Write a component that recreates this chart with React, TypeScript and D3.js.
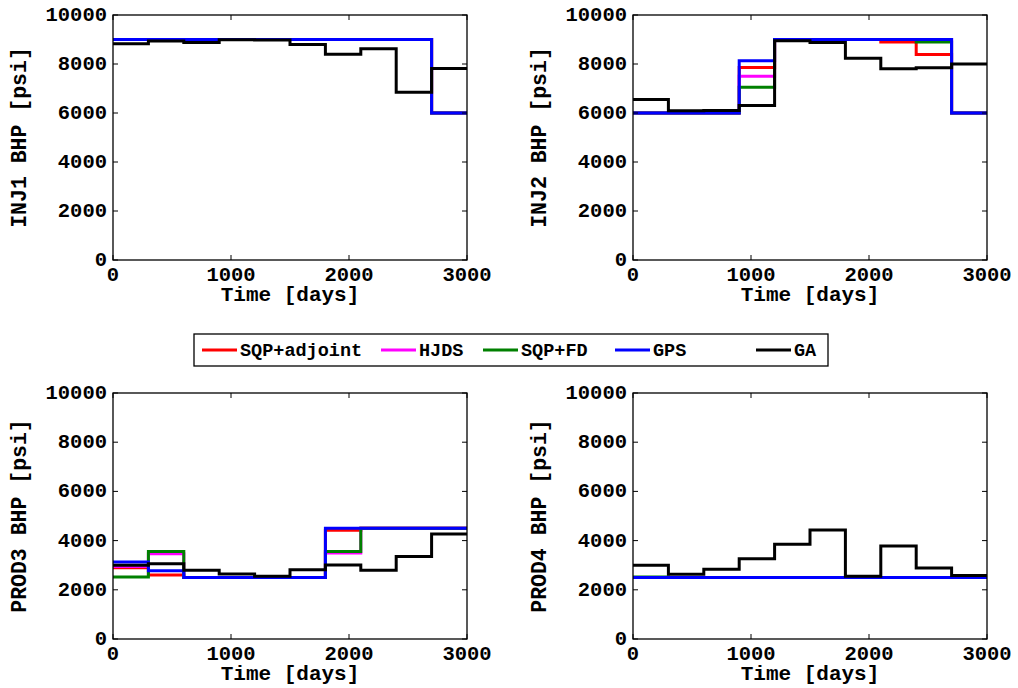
import React from "react";
import * as d3 from "d3";

const TIMES = [0, 300, 600, 900, 1200, 1500, 1800, 2100, 2400, 2700];
const T_END = 3000;

const SERIES = ["SQP+adjoint", "HJDS", "SQP+FD", "GPS", "GA"];
const COLORS = ["#ff0000", "#ff00ff", "#008000", "#0000ff", "#000000"];

const X_TICKS = [0, 1000, 2000, 3000];
const Y_TICKS = [0, 2000, 4000, 6000, 8000, 10000];

// INJ1
const INJ1_SQP_ADJ = [9000, 9000, 9000, 9000, 9000, 9000, 9000, 9000, 9000, 6000];
const INJ1_HJDS = [9000, 9000, 9000, 9000, 9000, 9000, 9000, 9000, 9000, 6000];
const INJ1_SQP_FD = [9000, 9000, 9000, 9000, 9000, 9000, 9000, 9000, 9000, 6000];
const INJ1_GPS = [9000, 9000, 9000, 9000, 9000, 9000, 9000, 9000, 9000, 6000];
const INJ1_GA = [8830, 8940, 8880, 8990, 8980, 8800, 8400, 8620, 6850, 7820];

// INJ2
const INJ2_SQP_ADJ = [6000, 6000, 6000, 7860, 9000, 9000, 9000, 8900, 8390, 6000];
const INJ2_HJDS = [6000, 6000, 6000, 7500, 9000, 9000, 9000, 9000, 9000, 6000];
const INJ2_SQP_FD = [6000, 6000, 6000, 7050, 9000, 9000, 9000, 9000, 8900, 6000];
const INJ2_GPS = [6000, 6000, 6000, 8130, 9000, 9000, 9000, 9000, 9000, 6000];
const INJ2_GA = [6550, 6090, 6100, 6310, 8950, 8880, 8230, 7810, 7850, 8000];

// PROD3
const PROD3_SQP_ADJ = [2900, 2600, 2500, 2500, 2500, 2500, 4420, 4500, 4500, 4500];
const PROD3_HJDS = [2950, 3470, 2500, 2500, 2500, 2500, 3500, 4500, 4500, 4500];
const PROD3_SQP_FD = [2520, 3560, 2500, 2500, 2500, 2500, 3560, 4500, 4500, 4500];
const PROD3_GPS = [3130, 2770, 2500, 2500, 2500, 2500, 4500, 4500, 4500, 4500];
const PROD3_GA = [3000, 3060, 2790, 2640, 2550, 2820, 3010, 2790, 3350, 4270];

// PROD4
const PROD4_SQP_ADJ = [2500, 2500, 2500, 2500, 2500, 2500, 2500, 2500, 2500, 2500];
const PROD4_HJDS = [2500, 2500, 2500, 2500, 2500, 2500, 2500, 2500, 2500, 2500];
const PROD4_SQP_FD = [2520, 2500, 2500, 2500, 2500, 2500, 2500, 2500, 2500, 2500];
const PROD4_GPS = [2500, 2500, 2500, 2500, 2500, 2500, 2500, 2500, 2500, 2500];
const PROD4_GA = [3000, 2630, 2840, 3260, 3850, 4430, 2550, 3780, 2890, 2580];

const PANELS = [
  { label: "INJ1 BHP [psi]", data: [INJ1_SQP_ADJ, INJ1_HJDS, INJ1_SQP_FD, INJ1_GPS, INJ1_GA] },
  { label: "INJ2 BHP [psi]", data: [INJ2_SQP_ADJ, INJ2_HJDS, INJ2_SQP_FD, INJ2_GPS, INJ2_GA] },
  { label: "PROD3 BHP [psi]", data: [PROD3_SQP_ADJ, PROD3_HJDS, PROD3_SQP_FD, PROD3_GPS, PROD3_GA] },
  { label: "PROD4 BHP [psi]", data: [PROD4_SQP_ADJ, PROD4_HJDS, PROD4_SQP_FD, PROD4_GPS, PROD4_GA] },
];

const FONT = "'Liberation Mono', 'Courier New', monospace";

const BOXES = [
  { x: 113, y: 15, w: 354, h: 245 },
  { x: 633, y: 15, w: 354, h: 245 },
  { x: 113, y: 393, w: 354, h: 246 },
  { x: 633, y: 393, w: 354, h: 246 },
];

function Panel({ box, label, data }: any) {
  const x = d3.scaleLinear().domain([0, T_END]).range([box.x, box.x + box.w]);
  const y = d3.scaleLinear().domain([0, 10000]).range([box.y + box.h, box.y]);
  const line = d3
    .line<[number, number]>()
    .x((d) => x(d[0]))
    .y((d) => y(d[1]))
    .curve(d3.curveStepAfter);
  const tl = 5;
  return (
    <g>
      {data.map((vals: number[], i: number) => {
        const pts: [number, number][] = TIMES.map((t, k) => [t, vals[k]]);
        pts.push([T_END, vals[vals.length - 1]]);
        return (
          <path key={i} d={line(pts) || ""} fill="none" stroke={COLORS[i]} strokeWidth={3} />
        );
      })}
      <rect x={box.x} y={box.y} width={box.w} height={box.h} fill="none" stroke="#000" strokeWidth={1.3} />
      {X_TICKS.map((t) => (
        <g key={"xt" + t}>
          <line x1={x(t)} x2={x(t)} y1={box.y + box.h} y2={box.y + box.h - tl} stroke="#000" strokeWidth={1} />
          <line x1={x(t)} x2={x(t)} y1={box.y} y2={box.y + tl} stroke="#000" strokeWidth={1} />
          <text x={x(t)} y={box.y + box.h + 21} textAnchor="middle" fontFamily={FONT} fontWeight="bold" fontSize={20.5}>
            {t}
          </text>
        </g>
      ))}
      {Y_TICKS.map((v) => (
        <g key={"yt" + v}>
          <line x1={box.x} x2={box.x + tl} y1={y(v)} y2={y(v)} stroke="#000" strokeWidth={1} />
          <line x1={box.x + box.w} x2={box.x + box.w - tl} y1={y(v)} y2={y(v)} stroke="#000" strokeWidth={1} />
          <text x={box.x - 6} y={y(v) + 6} textAnchor="end" fontFamily={FONT} fontWeight="bold" fontSize={20.5}>
            {v}
          </text>
        </g>
      ))}
      <text x={box.x + box.w / 2} y={box.y + box.h + 41} textAnchor="middle" fontFamily={FONT} fontWeight="bold" fontSize={21}>
        Time [days]
      </text>
      <text
        transform={`translate(${box.x - 87},${box.y + box.h / 2}) rotate(-90)`}
        textAnchor="middle"
        fontFamily={FONT}
        fontWeight="bold"
        fontSize={21.5}
      >
        {label}
      </text>
    </g>
  );
}

const LEGEND_X = [202, 381, 483, 615, 756];

export default function App() {
  return (
    <svg width={1018} height={688} style={{ position: "absolute", left: 0, top: 0, background: "#fff" }}>
      <rect x={0} y={0} width={1018} height={688} fill="#fff" />
      {PANELS.map((p, i) => (
        <Panel key={i} box={BOXES[i]} label={p.label} data={p.data} />
      ))}
      <g>
        <rect x={194} y={334} width={634} height={32} fill="#fff" stroke="#000" strokeWidth={1.3} />
        {SERIES.map((s, i) => (
          <g key={s}>
            <line x1={LEGEND_X[i]} x2={LEGEND_X[i] + 35} y1={350} y2={350} stroke={COLORS[i]} strokeWidth={3} />
            <text x={LEGEND_X[i] + 38} y={356} fontFamily={FONT} fontWeight="bold" fontSize={18.5}>
              {s}
            </text>
          </g>
        ))}
      </g>
    </svg>
  );
}
